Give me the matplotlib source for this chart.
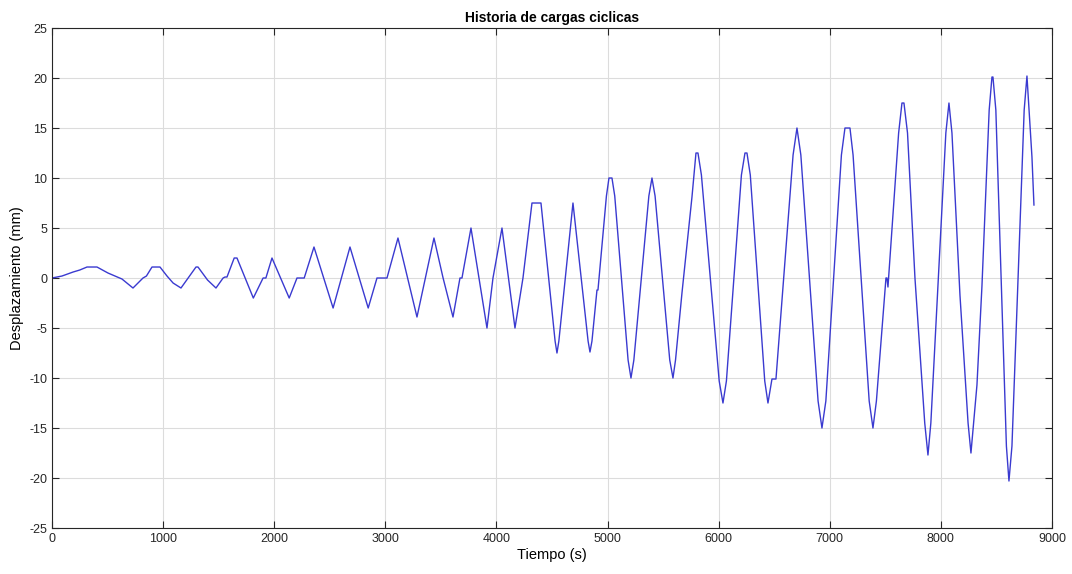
import numpy as np
import matplotlib
matplotlib.use("Agg")
import matplotlib.pyplot as plt

plt.rcParams['font.family'] = ['Liberation Sans', 'DejaVu Sans']
plt.rcParams['axes.unicode_minus'] = False

# vertices of the load history (time in s, displacement in mm)
tiempo = [0, 90, 190, 250, 315, 405, 504, 630, 729, 819, 850, 900, 972, 1035, 1090, 1161,
          1296, 1314, 1400, 1476, 1540, 1557, 1575, 1640, 1665, 1812, 1900, 1925, 1980,
          2135, 2205, 2270, 2358, 2530, 2682, 2846, 2925, 3015, 3114, 3285, 3438, 3520,
          3609, 3672, 3690, 3771, 3915, 3969, 4050, 4167, 4239, 4320, 4401, 4528, 4545, 4562,
          4689, 4825, 4842, 4860, 4905, 4914, 4990, 5013, 5040, 5065,
          5185, 5211, 5237, 5372, 5400, 5428, 5560, 5589, 5612, 5670, 5760, 5796, 5814, 5845,
          6005, 6039, 6070, 6205, 6237, 6255, 6285, 6415, 6444, 6480, 6516,
          6670, 6705, 6740, 6895, 6930, 6965, 7105, 7137, 7182, 7210, 7355, 7389, 7420,
          7506, 7515, 7524, 7620, 7650, 7668, 7700, 7767, 7855, 7884, 7910,
          8045, 8073, 8100, 8172, 8245, 8271, 8295, 8325, 8370, 8435, 8460, 8469, 8495,
          8590, 8613, 8640, 8750, 8775, 8820, 8838]
desplazamiento = [0, 0.2, 0.6, 0.8, 1.1, 1.1, 0.5, -0.1, -1.0, 0.0, 0.2, 1.1, 1.1, 0.2, -0.5, -1.0,
                  1.1, 1.1, -0.2, -1.0, 0.0, 0.1, 0.1, 2.0, 2.0, -2.0, 0.0, 0.0, 2.0,
                  -2.0, 0.0, 0.0, 3.1, -3.0, 3.1, -3.0, 0.0, 0.0, 4.0, -3.9, 4.0, 0.0,
                  -3.9, 0.0, 0.0, 5.0, -5.0, 0.0, 5.0, -5.0, 0.0, 7.5, 7.5, -6.3, -7.5, -6.3,
                  7.5, -6.3, -7.4, -6.3, -1.2, -1.2, 8.2, 10.0, 10.0, 8.2,
                  -8.2, -10.0, -8.2, 8.2, 10.0, 8.2, -8.2, -10.0, -8.2, -1.5, 8.1, 12.5, 12.5, 10.3,
                  -10.3, -12.5, -10.3, 10.3, 12.5, 12.5, 10.3, -10.3, -12.5, -10.1, -10.1,
                  12.3, 15.0, 12.3, -12.3, -15.0, -12.3, 12.3, 15.0, 15.0, 12.3, -12.3, -15.0, -12.3,
                  0.0, 0.0, -0.9, 14.5, 17.5, 17.5, 14.5, 0.0, -14.5, -17.7, -14.5,
                  14.5, 17.5, 14.5, -1.7, -14.5, -17.5, -14.5, -10.7, -0.8, 16.8, 20.1, 20.1, 16.8,
                  -16.8, -20.3, -16.8, 16.8, 20.2, 12.1, 7.3]

fig = plt.figure(figsize=(10.72, 5.74), dpi=100)
ax = fig.add_axes([0.0485, 0.0801, 0.9328, 0.8711])

ax.plot(tiempo, desplazamiento, color='#3a3ad0', linewidth=1.0)

ax.set_xlim(0, 9000)
ax.set_ylim(-25, 25)
ax.set_xticks(np.arange(0, 9001, 1000))
ax.set_yticks(np.arange(-25, 26, 5))
ax.grid(True, color='#dcdcdc', linewidth=0.8)
ax.tick_params(direction='in', top=True, right=True, labelsize=9, colors='#262626', length=5)
for s in ax.spines.values():
    s.set_color('#262626')
    s.set_linewidth(0.8)

ax.set_title('Historia de cargas ciclicas', fontsize=10, fontweight='bold', pad=4)
ax.set_xlabel('Tiempo (s)', fontsize=10.5, labelpad=2)
ax.set_ylabel('Desplazamiento (mm)', fontsize=10.5, labelpad=4)

fig.savefig('out.png', dpi=100)
